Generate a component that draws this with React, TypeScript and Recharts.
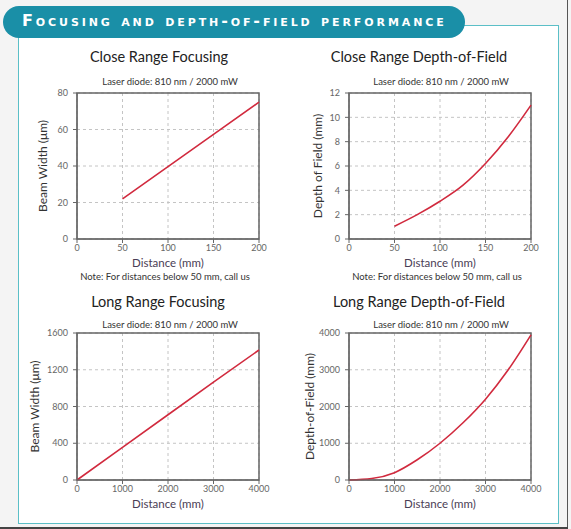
// App.tsx
import {
  LineChart,
  Line,
  XAxis,
  YAxis,
  CartesianGrid,
  ReferenceArea,
} from "recharts";

const closeDistance = [50, 100, 150, 200];
const closeBeamWidth = [22, 39.7, 57.3, 75];

const closeDofDistance = [50, 75, 100, 125, 150, 175, 200];
const closeDof = [1.05, 2.0, 3.1, 4.4, 6.2, 8.4, 11];

const longDistance = [0, 1000, 2000, 3000, 4000];
const longBeamWidth = [0, 355, 710, 1065, 1415];

const longDofDistance = [0, 500, 1000, 1500, 2000, 2500, 3000, 3500, 4000];
const longDof = [0, 40, 200, 550, 1000, 1550, 2200, 3000, 3950];

const closeXTicks = [0, 50, 100, 150, 200];
const longXTicks = [0, 1000, 2000, 3000, 4000];
const closeBeamTicks = [0, 20, 40, 60, 80];
const closeDofTicks = [0, 2, 4, 6, 8, 10, 12];
const longBeamTicks = [0, 400, 800, 1200, 1600];
const longDofTicks = [0, 1000, 2000, 3000, 4000];

const SUBTITLE = "Laser diode: 810 nm / 2000 mW";
const NOTE = "Note: For distances below 50 mm, call us";

const FONT = "Lato, 'Noto Sans', sans-serif";
const RED = "#d12a3e";
const FRAME = "#666";

function toRows(xs: number[], ys: number[]) {
  return xs.map((x, i) => ({ x, y: ys[i] }));
}

interface PanelProps {
  left: number;
  top: number;
  height: number;
  xs: number[];
  ys: number[];
  xTicks: number[];
  yTicks: number[];
  yLabel: string;
  yLabelOffset: number;
  curve: "linear" | "monotone";
}

function Panel(p: PanelProps) {
  const data = toRows(p.xs, p.ys);
  const xMax = p.xTicks[p.xTicks.length - 1];
  const yMax = p.yTicks[p.yTicks.length - 1];
  const tick = { fontSize: 9, fill: "#666", fontFamily: FONT };
  return (
    <div style={{ position: "absolute", left: p.left, top: p.top }}>
      <LineChart
        width={290}
        height={p.height}
        data={data}
        margin={{ top: 13, right: 31, bottom: 0, left: 0 }}
      >
        <CartesianGrid stroke="#c4c4c4" strokeDasharray="3 3" />
        <XAxis
          dataKey="x"
          type="number"
          domain={[0, xMax]}
          ticks={p.xTicks}
          interval={0}
          height={41}
          tickSize={4}
          tick={tick}
          stroke={FRAME}
          label={{
            value: "Distance (mm)",
            position: "insideBottom",
            offset: 13,
            style: { fontSize: 11.5, fill: "#4a3d55", fontFamily: FONT },
          }}
        />
        <YAxis
          type="number"
          domain={[0, yMax]}
          ticks={p.yTicks}
          interval={0}
          width={77}
          tickSize={4}
          tickMargin={5}
          tick={tick}
          stroke={FRAME}
          label={{
            value: p.yLabel,
            angle: -90,
            position: "insideLeft",
            offset: p.yLabelOffset,
            style: {
              textAnchor: "middle",
              fontSize: 12,
              fill: "#333",
              fontFamily: FONT,
            },
          }}
        />
        <ReferenceArea
          x1={0}
          x2={xMax}
          y1={0}
          y2={yMax}
          fill="none"
          stroke={FRAME}
          strokeWidth={1.5}
        />
        <Line
          dataKey="y"
          type={p.curve}
          stroke={RED}
          strokeWidth={1.6}
          dot={false}
          isAnimationActive={false}
        />
      </LineChart>
    </div>
  );
}

function Txt(props: {
  x: number;
  y: number;
  size: number;
  children: string;
  color?: string;
}) {
  return (
    <div
      style={{
        position: "absolute",
        left: props.x - 200,
        top: props.y - props.size * 0.7,
        width: 400,
        textAlign: "center",
        fontSize: props.size,
        lineHeight: `${props.size * 1.4}px`,
        color: props.color ?? "#222",
        fontFamily: FONT,
        whiteSpace: "nowrap",
      }}
    >
      {props.children}
    </div>
  );
}

export default function App() {
  return (
    <div
      style={{
        position: "absolute",
        left: 0,
        top: 0,
        width: 571,
        height: 529,
        background: "#f4f4f4",
        overflow: "hidden",
        fontFamily: FONT,
      }}
    >
      <div
        style={{
          position: "absolute",
          left: 567,
          top: 0,
          width: 1,
          height: 528,
          background: "#555",
        }}
      />
      <div
        style={{
          position: "absolute",
          left: 0,
          top: 527,
          width: 568,
          height: 2,
          background: "#444",
        }}
      />
      <div
        style={{
          position: "absolute",
          left: 18,
          top: 25,
          width: 539,
          height: 497,
          background: "#fff",
          border: "1.5px solid #5bbfc7",
        }}
      />
      <div
        style={{
          position: "absolute",
          left: 3,
          top: 6,
          width: 462,
          height: 32,
          borderRadius: 16,
          background: "#1a8fa7",
        }}
      />
      <div
        style={{
          position: "absolute",
          left: 22,
          top: 11,
          color: "#fff",
          fontFamily: "'DejaVu Sans', sans-serif",
          fontWeight: "bold",
          fontSize: 16,
          fontVariant: "small-caps",
          letterSpacing: 2.9,
          lineHeight: "20px",
          whiteSpace: "nowrap",
        }}
      >
        Focusing and depth-of-field performance
      </div>

      <Txt x={159} y={57} size={14.5}>Close Range Focusing</Txt>
      <Txt x={419} y={57} size={14.5}>Close Range Depth-of-Field</Txt>
      <Txt x={158} y={302} size={14.5}>Long Range Focusing</Txt>
      <Txt x={419} y={302} size={14.5}>Long Range Depth-of-Field</Txt>

      <Txt x={170} y={82} size={9.5} color="#333">{SUBTITLE}</Txt>
      <Txt x={441} y={82} size={9.5} color="#333">{SUBTITLE}</Txt>
      <Txt x={170} y={325} size={9.5} color="#333">{SUBTITLE}</Txt>
      <Txt x={441} y={325} size={9.5} color="#333">{SUBTITLE}</Txt>

      <Txt x={165} y={277} size={9.5} color="#333">{NOTE}</Txt>
      <Txt x={437} y={277} size={9.5} color="#333">{NOTE}</Txt>

      <Panel
        left={0}
        top={80}
        height={200}
        xs={closeDistance}
        ys={closeBeamWidth}
        xTicks={closeXTicks}
        yTicks={closeBeamTicks}
        yLabel="Beam Width (μm)"
        yLabelOffset={43}
        curve="linear"
      />
      <Panel
        left={272}
        top={80}
        height={200}
        xs={closeDofDistance}
        ys={closeDof}
        xTicks={closeXTicks}
        yTicks={closeDofTicks}
        yLabel="Depth of Field (mm)"
        yLabelOffset={46}
        curve="monotone"
      />
      <Panel
        left={0}
        top={320}
        height={201}
        xs={longDistance}
        ys={longBeamWidth}
        xTicks={longXTicks}
        yTicks={longBeamTicks}
        yLabel="Beam Width (μm)"
        yLabelOffset={35}
        curve="linear"
      />
      <Panel
        left={272}
        top={320}
        height={201}
        xs={longDofDistance}
        ys={longDof}
        xTicks={longXTicks}
        yTicks={longDofTicks}
        yLabel="Depth-of-Field (mm)"
        yLabelOffset={38}
        curve="monotone"
      />
    </div>
  );
}
